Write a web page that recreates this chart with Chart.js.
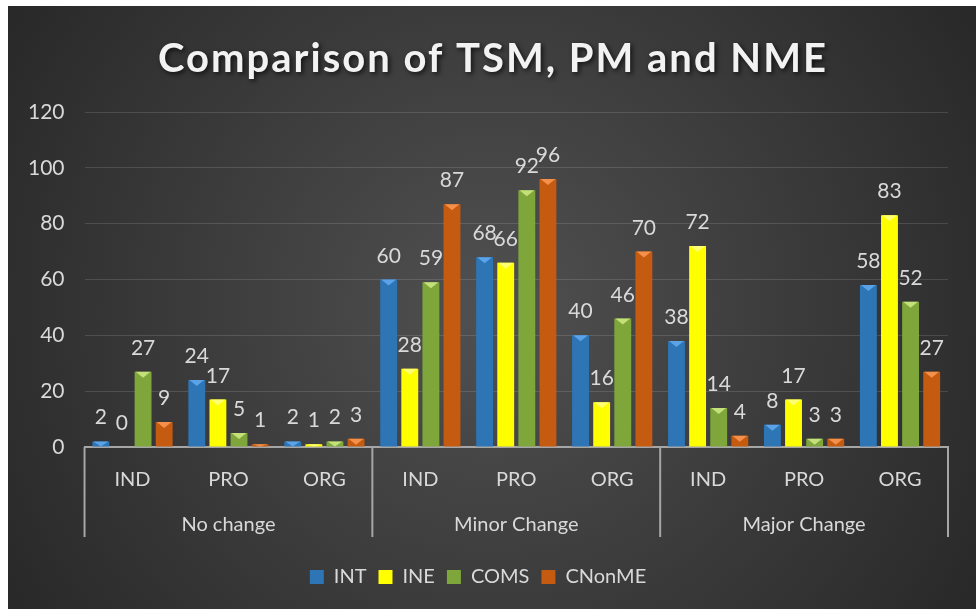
<!DOCTYPE html>
<html>
<head>
<meta charset="utf-8">
<script src="https://cdn.jsdelivr.net/npm/chart.js@4/dist/chart.umd.min.js"></script>
<style>
  html, body { margin: 0; padding: 0; background: #fff; }
  #wrap { position: absolute; left: 8px; top: 6px; width: 968px; height: 603px; }
</style>
</head>
<body>
<div id="wrap"><canvas id="chart" width="968" height="603"></canvas></div>
<script>
const subLabels = ["IND", "PRO", "ORG", "IND", "PRO", "ORG", "IND", "PRO", "ORG"];
const groupLabels = ["No change", "Minor Change", "Major Change"];

const intValues    = [2, 24, 2, 60, 68, 40, 38, 8, 58];
const ineValues    = [0, 17, 1, 28, 66, 16, 72, 17, 83];
const comsValues   = [27, 5, 2, 59, 92, 46, 14, 3, 52];
const cnonmeValues = [9, 1, 3, 87, 96, 70, 4, 3, 27];

const yTicks = [0, 20, 40, 60, 80, 100, 120];

const chartTitle = "Comparison of TSM, PM and NME";

const FONT = "Lato, 'Open Sans', sans-serif";
const TEXT = "#d9d9d9";

// dark radial background like the office theme
const background = {
  id: "background",
  beforeDraw(chart) {
    const { ctx, width, height } = chart;
    const g = ctx.createRadialGradient(width * 0.5, height * 0.5, 20, width * 0.5, height * 0.5, width * 0.62);
    g.addColorStop(0, "#4f4f4f");
    g.addColorStop(1, "#262626");
    ctx.save();
    ctx.fillStyle = g;
    ctx.fillRect(0, 0, width, height);
    ctx.restore();
  }
};

// title drawn by hand: needs letter spacing + soft shadow
const titleText = {
  id: "titleText",
  afterDraw(chart) {
    const { ctx, width } = chart;
    ctx.save();
    ctx.font = "bold 40px " + FONT;
    ctx.letterSpacing = "2px";
    ctx.textAlign = "center";
    ctx.textBaseline = "middle";
    ctx.shadowColor = "rgba(0,0,0,0.7)";
    ctx.shadowBlur = 5;
    ctx.shadowOffsetX = 2;
    ctx.shadowOffsetY = 2;
    ctx.fillStyle = "#f2f2f2";
    ctx.fillText(chartTitle, width / 2 + 1, 53);
    ctx.restore();
  }
};

// bevel triangle on top of each bar + value labels
const barLabels = {
  id: "barLabels",
  afterDatasetsDraw(chart) {
    const { ctx } = chart;
    ctx.save();
    chart.data.datasets.forEach((ds, i) => {
      const meta = chart.getDatasetMeta(i);
      meta.data.forEach((bar, j) => {
        const v = ds.data[j];
        const w = bar.width;
        if (v > 0) {
          ctx.fillStyle = ds.topColor;
          ctx.beginPath();
          ctx.moveTo(bar.x - w / 2 + 1, bar.y);
          ctx.lineTo(bar.x + w / 2 - 1, bar.y);
          ctx.lineTo(bar.x, bar.y + Math.min(6, bar.base - bar.y));
          ctx.closePath();
          ctx.fill();
        }
        ctx.fillStyle = TEXT;
        ctx.font = "21px " + FONT;
        ctx.textAlign = "center";
        ctx.textBaseline = "alphabetic";
        ctx.fillText(String(v), bar.x, bar.y - 17);
      });
    });
    ctx.restore();
  }
};

// separators between the three groups on the category axis
const groupLines = {
  id: "groupLines",
  afterDraw(chart) {
    const { ctx, chartArea } = chart;
    const x = chart.scales.x;
    const x2 = chart.scales.x2;
    const edges = [chartArea.left];
    for (let g = 1; g < groupLabels.length; g++) {
      const k = g * 3;
      edges.push((x.getPixelForValue(k - 1) + x.getPixelForValue(k)) / 2);
    }
    edges.push(chartArea.right);
    ctx.save();
    ctx.strokeStyle = "#a6a6a6";
    ctx.lineWidth = 2;
    edges.forEach(px => {
      ctx.beginPath();
      ctx.moveTo(px, chartArea.bottom);
      ctx.lineTo(px, x2.bottom - 18);
      ctx.stroke();
    });
    ctx.restore();
  }
};

new Chart(document.getElementById("chart"), {
  type: "bar",
  data: {
    labels: subLabels,
    datasets: [
      { label: "INT", data: intValues, backgroundColor: "#2e75b6", topColor: "#5ba3e8" },
      { label: "INE", data: ineValues, backgroundColor: "#ffff00", topColor: "#ffff70" },
      { label: "COMS", data: comsValues, backgroundColor: "#7ea63a", topColor: "#c4e07a" },
      { label: "CNonME", data: cnonmeValues, backgroundColor: "#c55a11", topColor: "#f4904a" }
    ].map(d => Object.assign(d, {
      categoryPercentage: 0.88,
      barPercentage: 0.8
    }))
  },
  options: {
    responsive: false,
    animation: false,
    layout: { padding: { top: 106, left: 0, right: 28, bottom: 12 } },
    plugins: {
      title: { display: false },
      legend: {
        position: "bottom",
        labels: {
          color: TEXT,
          font: { family: FONT, size: 20 },
          boxWidth: 14,
          boxHeight: 14,
          padding: 12
        }
      },
      tooltip: { enabled: false }
    },
    scales: {
      x: {
        grid: { display: false, drawTicks: false },
        border: { display: true, color: "#a6a6a6", width: 2 },
        ticks: { color: TEXT, font: { family: FONT, size: 20 }, padding: 21 }
      },
      x2: {
        type: "category",
        labels: groupLabels,
        position: "bottom",
        offset: true,
        grid: { display: false, drawTicks: false },
        border: { display: false },
        ticks: { color: TEXT, font: { family: FONT, size: 20 }, padding: 0 },
        afterFit(scale) { scale.height += 18; }
      },
      y: {
        min: 0,
        max: 120,
        afterBuildTicks(axis) { axis.ticks = yTicks.map(v => ({ value: v })); },
        grid: { color: "rgba(255,255,255,0.13)", drawTicks: false },
        border: { display: false },
        ticks: { color: TEXT, font: { family: FONT, size: 21 }, padding: 20 }
      }
    }
  },
  plugins: [background, barLabels, groupLines, titleText]
});
</script>
</body>
</html>
